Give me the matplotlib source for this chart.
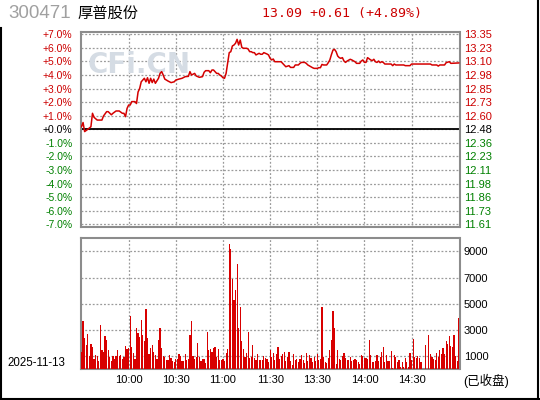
import matplotlib
matplotlib.use("Agg")
import matplotlib.pyplot as plt
from matplotlib.lines import Line2D

plt.rcParams['font.family'] = ['Liberation Sans', 'Noto Sans CJK SC']

# Données
stock_code = "300471"
stock_name = "厚普股份"
prev_close = 12.48
last_price = 13.09
date_label = "2025-11-13"

# minutes depuis 9:30 (0-120 matin, 120-240 après-midi) et variation en %
price_minutes = [0, 1, 2, 4, 6, 7, 8, 10, 13, 14, 16, 17, 19, 20, 22, 24, 26, 27, 28, 29,
                 30, 31, 32, 34, 35, 36, 37, 38, 39, 40, 41, 42, 43, 44, 45, 46, 47, 49, 50, 51,
                 52, 53, 55, 57, 59, 60, 62, 64, 66, 68, 69, 70, 72, 73, 75, 77, 78, 79, 81, 82,
                 83, 84, 85, 86, 87, 88, 89, 90, 91, 92, 93, 94, 95, 96, 97, 98, 99, 100, 101, 102,
                 103, 105, 106, 107, 108, 109, 110, 111, 113, 114, 115, 116, 118, 119, 120, 121, 122, 123, 125, 127,
                 128, 129, 130, 132, 133, 135, 136, 138, 139, 140, 142, 143, 144, 146, 147, 148, 150, 151, 152, 153,
                 154, 156, 157, 158, 159, 160, 161, 162, 163, 164, 165, 166, 167, 168, 169, 171, 172, 174, 175, 177,
                 178, 179, 180, 181, 182, 184, 185, 186, 187, 188, 189, 190, 191, 192, 193, 197, 198, 199, 200, 205,
                 206, 209, 210, 222, 223, 226, 227, 228, 231, 232, 234, 235, 240]
price_pct = [0.19, 0.50, -0.17, 0.00, 0.19, 1.18, 0.88, 0.68, 0.68, 0.98, 1.30, 1.30, 1.07, 1.18, 1.35, 1.35, 1.18, 1.18, 0.93, 1.54,
             1.79, 1.79, 2.04, 2.04, 1.90, 2.75, 3.00, 3.50, 3.63, 3.76, 3.50, 3.80, 3.39, 3.76, 3.44, 3.70, 3.39, 3.76, 4.12, 4.25,
             4.00, 3.70, 3.56, 3.44, 3.50, 3.63, 3.70, 3.76, 3.88, 3.90, 4.25, 4.00, 4.12, 3.93, 3.83, 3.88, 4.20, 4.32, 4.32, 4.17,
             4.37, 4.37, 4.25, 4.12, 4.12, 4.00, 3.93, 3.80, 3.76, 4.12, 4.86, 5.65, 5.72, 6.14, 6.21, 6.34, 6.63, 6.21, 6.58, 6.04,
             5.97, 5.97, 5.92, 5.72, 5.72, 5.65, 5.65, 5.48, 5.60, 5.53, 5.53, 5.65, 5.55, 5.48, 5.23, 5.11, 5.18, 4.98, 4.98, 4.98,
             4.86, 4.74, 4.61, 4.69, 4.56, 4.56, 4.74, 4.74, 4.86, 4.93, 4.93, 4.86, 4.74, 4.61, 4.54, 4.49, 4.49, 4.54, 4.54, 4.78,
             4.74, 4.74, 4.91, 5.11, 5.50, 5.84, 5.89, 5.72, 5.40, 5.28, 5.23, 5.28, 5.03, 4.93, 5.03, 5.16, 5.11, 4.98, 4.86, 4.86,
             5.03, 5.11, 4.93, 4.93, 5.28, 5.11, 5.06, 5.16, 4.98, 4.93, 5.03, 4.91, 4.98, 4.93, 4.81, 4.81, 4.69, 4.81, 4.74, 4.74,
             4.69, 4.69, 4.81, 4.81, 4.74, 4.74, 4.66, 4.74, 4.74, 4.91, 4.98, 4.86, 4.89]

# volume par minute (241 barres)
volumes = [1348, 3688, 2365, 1857, 2696, 1043, 1933, 1704, 788, 1094, 1043, 636, 3382, 1475, 1348, 2543, 2238, 1475, 941, 636,
           1017, 788, 1017, 1475, 1017, 1094, 788, 941, 1780, 1551, 1628, 4069, 1704, 1246, 788, 3153, 2772, 2467, 3764, 2619,
           2162, 4603, 2390, 1170, 1628, 1857, 1322, 1094, 788, 2238, 3153, 1628, 1017, 941, 712, 712, 1094, 865, 636, 560,
           788,
           788, 1170, 1017, 636, 636, 1170, 712, 788, 2619, 3688, 1017, 788, 941, 2009, 941, 636, 788, 788, 483, 2848,
           1475, 1551, 1322, 1628, 1704, 941, 1551, 712, 712, 788, 636, 1246, 1551, 9562, 9180, 6892, 5289, 6052, 8036, 3153,
           4755, 2162, 1551, 941, 1246, 2848, 865, 941, 1857, 865, 712, 1170, 712, 712, 712, 1017, 865, 788, 560,
           1475, 941, 1246, 712, 1170, 1704, 788, 1017, 1170, 1322, 636, 941, 1322, 636, 330, 1170, 712, 788, 560, 788,
           1094, 712, 483, 1246, 636, 1094, 865, 560, 941, 636, 1170, 712, 788, 4755, 941, 560, 483, 865, 1475, 2238,
           4450, 3153, 407, 1475, 788, 712, 1017, 1246, 865, 712, 712, 941, 636, 712, 788, 712, 560, 407, 1094, 1017,
           865,
           865, 788, 2238, 1094, 560, 560, 636, 1094, 636, 941, 1322, 1704, 560, 1094, 636, 636, 1399, 80, 1094, 941,
           560, 712, 200, 560, 200, 865, 560, 200, 1246, 712, 2314, 941, 865, 1017, 865, 560, 0, 0, 1857, 0,
           2619, 1170, 941, 788, 712, 1246, 941, 1475, 1170, 1628, 1170, 2162, 1933, 2543, 1780, 1704, 2619, 1017, 600, 3916]

time_ticks = [30, 60, 90, 120, 150, 180, 210]
time_labels = ["10:00", "10:30", "11:00", "11:30", "13:30", "14:00", "14:30"]
pct_ticks = list(range(-7, 8))
vol_ticks = [1000, 3000, 5000, 7000, 9000]

red = "#cc0000"
green = "#008000"
grid_color = "#9a9a9a"
frame_color = "#8c8c8c"

fig = plt.figure(figsize=(5.4, 4.0), dpi=100)
fig.patch.set_facecolor("white")

def style_axes(ax):
    for s in ax.spines.values():
        s.set_color(frame_color)
        s.set_linewidth(1.5)
    ax.set_xlim(-0.5, 240.5)
    ax.set_xticks(time_ticks)
    ax.tick_params(length=0)
    ax.grid(True, color=grid_color, linestyle=(0, (1.5, 1.5)), linewidth=0.9)
    ax.set_axisbelow(True)

# ---- graphique des prix ----
ax1 = fig.add_axes([80.7 / 540, 1 - 226.6 / 400, 378.8 / 540, 194.6 / 400])
style_axes(ax1)
ax1.set_ylim(-7.17, 7.17)
ax1.set_yticks(pct_ticks)
ax1.set_yticklabels([f"{p:+.1f}%" for p in pct_ticks], fontsize=7.5)
ax1.tick_params(axis='y', pad=6)
ax1.set_xticklabels([])
for lab, p in zip(ax1.get_yticklabels(), pct_ticks):
    lab.set_color(red if p > 0 else (green if p < 0 else "black"))

ax1r = ax1.twinx()
ax1r.set_ylim(ax1.get_ylim())
ax1r.set_yticks(pct_ticks)
ax1r.set_yticklabels([f"{prev_close * (1 + p / 100):.2f}" for p in pct_ticks], fontsize=8)
ax1r.tick_params(length=0, pad=3)
for s in ax1r.spines.values():
    s.set_visible(False)
for lab, p in zip(ax1r.get_yticklabels(), pct_ticks):
    lab.set_color(red if p > 0 else (green if p < 0 else "black"))

ax1.text(0.155, 0.83, "CFi.CN", transform=ax1.transAxes, fontsize=20, fontweight="bold",
         family="DejaVu Sans", color="#d5dce4", ha="center", va="center", zorder=1)
ax1.axhline(0, color="black", linewidth=1.3, zorder=2)
ax1.plot(price_minutes, price_pct, color="#d40000", linewidth=1.1, zorder=3)

# ---- graphique des volumes ----
ax2 = fig.add_axes([80.7 / 540, 1 - 369.3 / 400, 378.8 / 540, 131 / 400])
style_axes(ax2)
ax2.bar(range(len(volumes)), volumes, width=0.75, color="#d80000", zorder=3)
ax2.set_ylim(0, 10000)
ax2.set_yticks(vol_ticks)
ax2.yaxis.tick_right()
ax2.set_yticklabels([str(v) for v in vol_ticks], fontsize=8)
ax2.tick_params(axis='y', pad=3)
ax2.set_xticklabels(time_labels, fontsize=8)
ax2.tick_params(axis='x', pad=4)

# ---- textes d'en-tête ----
change = last_price - prev_close
fig.text(8 / 540, 1 - 14 / 400, stock_code, fontsize=13.5, color="#a0a0a0", ha="left", va="center")
fig.text(78 / 540, 1 - 14 / 400, stock_name, fontsize=11, color="black", ha="left", va="center",
         family="Noto Sans CJK SC")
fig.text(262 / 540, 1 - 14 / 400,
         f"{last_price:.2f} {change:+.2f} ({change / prev_close * 100:+.2f}%)",
         fontsize=9.5, family="DejaVu Sans Mono", color=red, ha="left", va="center")
fig.text(7 / 540, 1 - 363 / 400, date_label, fontsize=8.3, ha="left", va="center")
fig.text(463 / 540, 1 - 381 / 400, "(已收盘)", fontsize=9, ha="left", va="center")

# bordure noire
fig.add_artist(Line2D([0.002, 0.002], [0, 1 - 28 / 400], transform=fig.transFigure, color="black", linewidth=1.5))
fig.add_artist(Line2D([0.997, 0.997], [0, 1], transform=fig.transFigure, color="black", linewidth=1.5))
fig.add_artist(Line2D([0, 1], [0.003, 0.003], transform=fig.transFigure, color="black", linewidth=1.5))

fig.savefig("out.png", dpi=100)
